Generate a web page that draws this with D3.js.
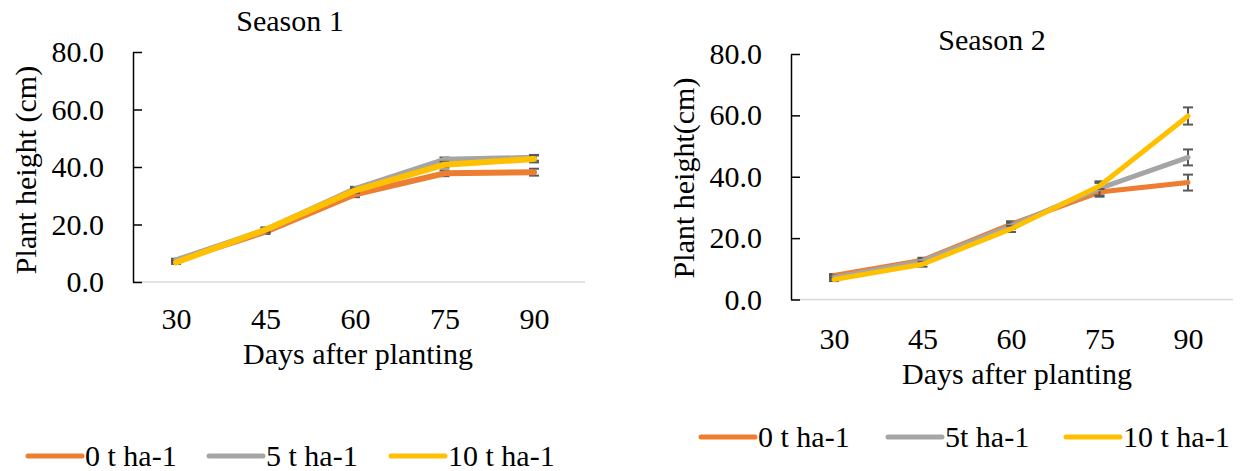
<!DOCTYPE html>
<html>
<head>
<meta charset="utf-8">
<script src="https://cdn.jsdelivr.net/npm/d3@7.9.0/dist/d3.min.js"></script>
<style>
  html, body { margin: 0; padding: 0; background: #fff; }
  svg { display: block; }
</style>
</head>
<body>
<svg id="chart" width="1245" height="471" font-family="Liberation Serif"></svg>
<script>
// ---- data ----
const days = ["30", "45", "60", "75", "90"];
const seriesNames = ["0 t ha-1", "5 t ha-1", "10 t ha-1"];
const seriesNames2 = ["0 t ha-1", "5t ha-1", "10 t ha-1"];
const colors = ["#ED7D31", "#A5A5A5", "#FFC000"];
const yTicks = [0, 20, 40, 60, 80];

// Season 1 means and error (cm)
const s1_t0 = [7.4, 17.5, 30.5, 37.8, 38.2];
const s1_t5 = [7.5, 18.0, 32.3, 42.5, 43.2];
const s1_t10 = [6.8, 18.2, 31.8, 40.8, 42.8];
const s1_err = [
  [0.5, 0.8, 1.0, 1.0, 1.2],
  [0.6, 0.8, 0.8, 0.8, 1.0],
  [0.5, 0.8, 0.8, 1.0, 1.2],
];

// Season 2 means and error (cm)
const s2_t0 = [7.8, 12.8, 24.5, 35.0, 38.1];
const s2_t5 = [7.2, 12.5, 24.0, 36.2, 46.3];
const s2_t10 = [6.5, 11.5, 23.0, 37.0, 59.8];
const s2_err = [
  [0.5, 0.8, 1.0, 1.5, 2.6],
  [0.6, 0.8, 1.0, 2.3, 2.6],
  [0.5, 0.8, 1.0, 1.0, 2.8],
];

const svg = d3.select("#chart");
const FONT = 30;
const FAMILY = "Liberation Serif";

function label(sel) {
  return sel.attr("font-family", FAMILY).attr("fill", "#000");
}

function drawPanel(cfg) {
  const g = svg.append("g");

  const x = d3.scalePoint().domain(days).range([cfg.x0, cfg.x1]);
  const y = d3.scaleLinear().domain([0, 80]).range([cfg.yBottom, cfg.yTop]);

  // x axis: light grey line, labels only
  g.append("line")
    .attr("x1", cfg.axisLeft).attr("x2", cfg.axisRight)
    .attr("y1", cfg.yBottom).attr("y2", cfg.yBottom)
    .attr("stroke", "#D9D9D9").attr("stroke-width", 1.5);

  const xAxis = g.append("g")
    .attr("transform", `translate(0,${cfg.yBottom})`)
    .call(d3.axisBottom(x).tickSize(0).tickPadding(cfg.xPad));
  xAxis.attr("font-family", FAMILY).attr("font-size", FONT);
  xAxis.select(".domain").remove();
  label(xAxis.selectAll("text")).attr("font-size", FONT);

  // y axis: black line with inside ticks
  const yAxis = g.append("g")
    .attr("transform", `translate(${cfg.axisLeft},0)`)
    .call(d3.axisLeft(y).tickValues(yTicks).tickSizeInner(-9).tickSizeOuter(0)
      .tickPadding(29).tickFormat(d3.format(".1f")));
  yAxis.attr("font-family", FAMILY).attr("font-size", FONT);
  yAxis.select(".domain").attr("stroke", "#000").attr("stroke-width", 1.5);
  yAxis.selectAll(".tick line").attr("stroke", "#000").attr("stroke-width", 1.5);
  label(yAxis.selectAll("text")).attr("font-size", FONT);

  const line = d3.line().x((d, i) => x(days[i])).y((d) => y(d));

  cfg.series.forEach((vals, s) => {
    // error bars
    const eb = g.append("g").attr("stroke", "#595959").attr("stroke-width", 2);
    vals.forEach((v, i) => {
      const cx = x(days[i]);
      const e = cfg.err[s][i];
      eb.append("line").attr("x1", cx).attr("x2", cx).attr("y1", y(v - e)).attr("y2", y(v + e));
      eb.append("line").attr("x1", cx - cfg.cap).attr("x2", cx + cfg.cap).attr("y1", y(v - e)).attr("y2", y(v - e));
      eb.append("line").attr("x1", cx - cfg.cap).attr("x2", cx + cfg.cap).attr("y1", y(v + e)).attr("y2", y(v + e));
    });
    g.append("path")
      .datum(vals)
      .attr("d", line)
      .attr("fill", "none")
      .attr("stroke", colors[s])
      .attr("stroke-width", cfg.lw)
      .attr("stroke-linecap", "round")
      .attr("stroke-linejoin", "round");
  });

  // title
  label(g.append("text"))
    .attr("x", cfg.titleX).attr("y", cfg.titleY)
    .attr("text-anchor", "middle").attr("font-size", FONT)
    .text(cfg.title);

  // axis titles
  label(g.append("text"))
    .attr("x", cfg.xTitleX).attr("y", cfg.xTitleY)
    .attr("text-anchor", "middle").attr("font-size", FONT)
    .text("Days after planting");

  label(g.append("text"))
    .attr("transform", `translate(${cfg.yTitleX},${cfg.yTitleY}) rotate(-90)`)
    .attr("text-anchor", "middle").attr("font-size", FONT)
    .text(cfg.yTitle);

  // legend
  const lg = g.append("g");
  cfg.legendX.forEach((lx, s) => {
    lg.append("line")
      .attr("x1", lx).attr("x2", lx + 54)
      .attr("y1", cfg.legendY).attr("y2", cfg.legendY)
      .attr("stroke", colors[s]).attr("stroke-width", 5)
      .attr("stroke-linecap", "round");
    label(lg.append("text"))
      .attr("x", lx + 57).attr("y", cfg.legendY + 10)
      .attr("font-size", FONT)
      .text(cfg.names[s]);
  });
}

drawPanel({
  title: "Season 1", titleX: 290, titleY: 31,
  x0: 176, x1: 534, axisLeft: 133, axisRight: 585,
  yBottom: 282, yTop: 52, xPad: 26,
  series: [s1_t0, s1_t5, s1_t10], err: s1_err, cap: 5, lw: 6,
  xTitleX: 358, xTitleY: 364,
  yTitle: "Plant height (cm)", yTitleX: 36, yTitleY: 170,
  legendX: [28, 209, 391], legendY: 456, names: seriesNames,
});

drawPanel({
  title: "Season 2", titleX: 992, titleY: 50,
  x0: 834, x1: 1188, axisLeft: 791, axisRight: 1233,
  yBottom: 299.5, yTop: 54, xPad: 28,
  series: [s2_t0, s2_t5, s2_t10], err: s2_err, cap: 5, lw: 5,
  xTitleX: 1017, xTitleY: 384,
  yTitle: "Plant height(cm)", yTitleX: 694, yTitleY: 178,
  legendX: [701, 888, 1066], legendY: 437, names: seriesNames2,
});
</script>
</body>
</html>
